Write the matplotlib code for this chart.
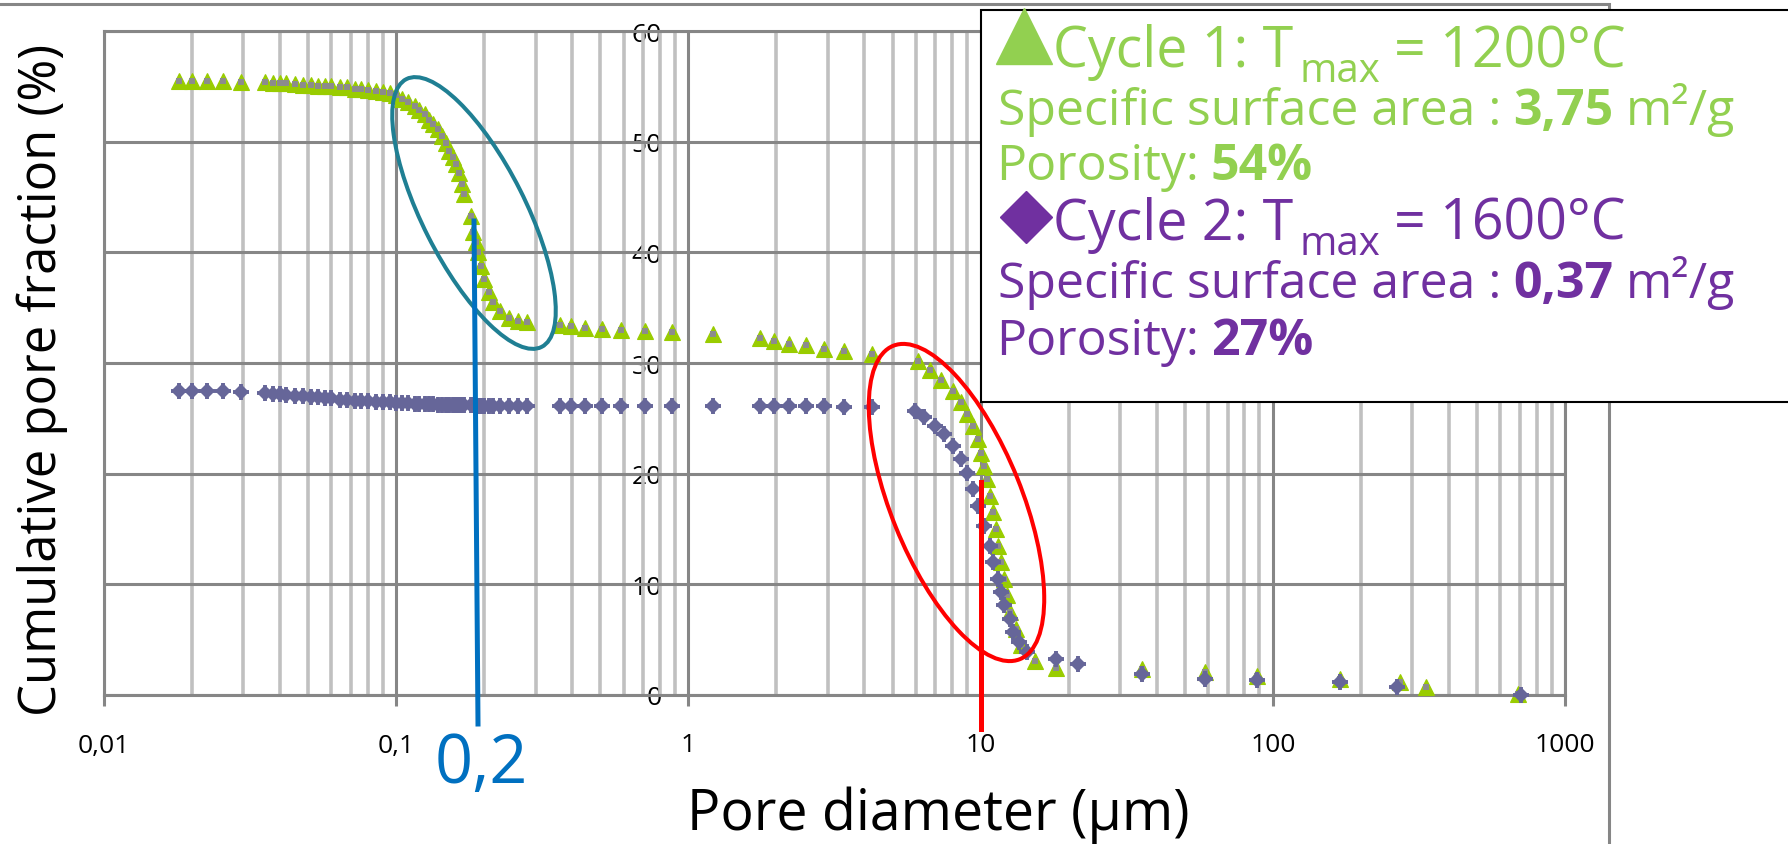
import matplotlib
matplotlib.use("Agg")
import matplotlib.pyplot as plt
from matplotlib import ticker
from matplotlib.patches import Ellipse, Rectangle

plt.rcParams["font.family"] = ["Open Sans", "DejaVu Sans"]

W, H = 1788, 845

# ── Data ──────────────────────────────────────────────────────────────────────
# Cycle 1 (Tmax = 1200 °C): pore diameter (µm) / cumulative pore fraction (%)
CYCLE1_D = [0.018, 0.020, 0.0226, 0.0256, 0.0295, 0.0357, 0.038, 0.040, 0.042, 0.045,
            0.048, 0.051, 0.054, 0.057, 0.060, 0.064, 0.068, 0.072, 0.076, 0.080,
            0.085, 0.090, 0.095, 0.100, 0.105, 0.110, 0.116, 0.120, 0.125, 0.130,
            0.134, 0.139, 0.144, 0.148, 0.152, 0.156, 0.160, 0.164, 0.168, 0.171,
            0.180, 0.183, 0.187, 0.190, 0.195, 0.200, 0.207, 0.215, 0.226, 0.243,
            0.261, 0.280, 0.364, 0.398, 0.443, 0.508, 0.586, 0.711, 0.877, 1.21,
            1.76, 1.97, 2.21, 2.52, 2.90, 3.40, 4.26, 6.10, 6.69, 7.33,
            8.02, 8.58, 8.98, 9.39, 9.82, 10.05, 10.28, 10.50, 10.76, 11.00,
            11.25, 11.50, 11.75, 12.00, 12.30, 12.60, 13.20, 13.80, 15.40, 18.10,
            35.7, 58.6, 88.1, 170, 272, 335, 692]
CYCLE1_FRAC = [55.5, 55.5, 55.5, 55.5, 55.4, 55.4, 55.3, 55.3, 55.3, 55.2,
               55.1, 55.1, 55.0, 55.0, 55.0, 54.9, 54.9, 54.8, 54.8, 54.7,
               54.6, 54.5, 54.4, 54.2, 53.9, 53.6, 53.2, 52.9, 52.5, 52.0,
               51.6, 51.1, 50.5, 49.9, 49.2, 48.6, 48.0, 47.2, 46.2, 45.3,
               43.3, 41.8, 40.9, 40.0, 38.8, 37.6, 36.4, 35.5, 34.7, 34.1,
               33.8, 33.7, 33.4, 33.3, 33.2, 33.1, 33.0, 32.9, 32.8, 32.6,
               32.3, 32.0, 31.7, 31.6, 31.3, 31.1, 30.8, 30.2, 29.4, 28.5,
               27.5, 26.5, 25.4, 24.3, 23.1, 21.9, 20.7, 19.5, 18.0, 16.5,
               15.0, 13.5, 12.0, 10.5, 9.0, 7.5, 6.0, 4.5, 3.1, 2.4,
               2.35, 2.1, 1.75, 1.45, 1.15, 0.7, 0.1]

# Cycle 2 (Tmax = 1600 °C)
CYCLE2_D = [0.018, 0.020, 0.0226, 0.0256, 0.0295, 0.0357, 0.038, 0.040, 0.042, 0.045,
            0.048, 0.051, 0.054, 0.057, 0.060, 0.064, 0.068, 0.072, 0.076, 0.080,
            0.085, 0.090, 0.095, 0.100, 0.105, 0.110, 0.116, 0.120, 0.125, 0.130,
            0.134, 0.139, 0.144, 0.148, 0.152, 0.156, 0.160, 0.164, 0.168, 0.171,
            0.180, 0.183, 0.187, 0.190, 0.195, 0.200, 0.207, 0.215, 0.226, 0.243,
            0.261, 0.280, 0.364, 0.398, 0.443, 0.508, 0.586, 0.711, 0.877, 1.21,
            1.76, 1.97, 2.21, 2.52, 2.90, 3.40, 4.26, 5.97, 6.41, 7.00,
            7.50, 8.02, 8.58, 8.98, 9.40, 9.82, 10.28, 10.76, 11.00, 11.50,
            11.75, 12.00, 12.60, 12.90, 13.50, 14.40, 18.10, 21.5, 35.7, 58.6,
            88.0, 170, 267, 708]
CYCLE2_FRAC = [27.5, 27.5, 27.5, 27.5, 27.4, 27.3, 27.2, 27.2, 27.1, 27.0,
               27.0, 26.9, 26.9, 26.8, 26.8, 26.7, 26.7, 26.6, 26.6, 26.6,
               26.5, 26.5, 26.5, 26.4, 26.4, 26.4, 26.3, 26.3, 26.3, 26.3,
               26.3, 26.2, 26.2, 26.2, 26.2, 26.2, 26.2, 26.2, 26.2, 26.2,
               26.2, 26.2, 26.1, 26.1, 26.1, 26.1, 26.1, 26.1, 26.1, 26.1,
               26.1, 26.1, 26.1, 26.1, 26.1, 26.1, 26.1, 26.1, 26.1, 26.1,
               26.1, 26.1, 26.1, 26.1, 26.1, 26.0, 26.0, 25.7, 25.1, 24.3,
               23.6, 22.5, 21.3, 20.1, 18.6, 17.1, 15.3, 13.5, 12.0, 10.5,
               9.3, 8.1, 6.9, 5.7, 4.8, 3.9, 3.25, 2.8, 1.9, 1.45,
               1.4, 1.15, 0.7, 0.0]

X_TICKS = [0.01, 0.1, 1, 10, 100, 1000]
X_TICK_LABELS = ["0,01", "0,1", "1", "10", "100", "1000"]
Y_TICKS = [0, 10, 20, 30, 40, 50, 60]

X_LABEL = "Pore diameter (µm)"
Y_LABEL = "Cumulative pore fraction (%)"
MARK_02 = "0,2"

CYCLE1_TITLE = ["Cycle 1: T", "max", "= 1200°C"]
CYCLE1_SSA = ["Specific surface area :", "3,75", "m²/g"]
CYCLE1_POR = ["Porosity:", "54%"]
CYCLE2_TITLE = ["Cycle 2: T", "max", "= 1600°C"]
CYCLE2_SSA = ["Specific surface area :", "0,37", "m²/g"]
CYCLE2_POR = ["Porosity:", "27%"]

# ── Styles ────────────────────────────────────────────────────────────────────
GREEN_MK = "#99CC00"
GREY_MK = "#8C8C8C"
PURPLE_MK = "#666699"
GREEN_TXT = "#92D050"
PURPLE_TXT = "#7030A0"
GRID_MAJOR = "#868686"
GRID_MINOR = "#C0C0C0"

fig = plt.figure(figsize=(W / 100, H / 100), dpi=100)

# main plot area (pixel box 104..1565 x 32..696)
ax = fig.add_axes([104 / W, 1 - 696 / H, 1461 / W, 664 / H])
ax.set_xscale("log")
ax.set_xlim(0.01, 1000)
ax.set_ylim(0, 60)
ax.set_axisbelow(True)

ax.xaxis.set_major_locator(ticker.FixedLocator(X_TICKS))
ax.xaxis.set_major_formatter(ticker.FixedFormatter(X_TICK_LABELS))
ax.xaxis.set_minor_locator(ticker.LogLocator(base=10, subs=range(2, 10), numticks=50))
ax.xaxis.set_minor_formatter(ticker.NullFormatter())
ax.yaxis.set_major_locator(ticker.FixedLocator(Y_TICKS))

ax.grid(which="major", axis="both", color=GRID_MAJOR, linewidth=2.2)
ax.grid(which="minor", axis="x", color=GRID_MINOR, linewidth=2.6)
for sp in ax.spines.values():
    sp.set_color(GRID_MAJOR)
    sp.set_linewidth(2.2)

ax.tick_params(axis="x", which="major", direction="out", length=8, width=2.2,
               color=GRID_MAJOR, labelsize=19, pad=19)
ax.tick_params(axis="x", which="minor", length=0)
ax.tick_params(axis="y", left=False, labelleft=False)

# value axis labels sit next to the x = 1 gridline
sec = ax.secondary_yaxis(0.4)
sec.set_yticks(Y_TICKS)
sec.spines["left"].set_visible(False)
sec.tick_params(axis="y", length=0, labelsize=19, pad=19)

# series
ax.plot(CYCLE1_D, CYCLE1_FRAC, linestyle="none", marker="^", markersize=12,
        color=GREEN_MK, markeredgewidth=0.8, clip_on=False, zorder=3)
ax.plot(CYCLE1_D, CYCLE1_FRAC, linestyle="none", marker="s", markersize=4.8,
        color=GREY_MK, markeredgewidth=0, clip_on=False, zorder=3)
ax.plot(CYCLE2_D, CYCLE2_FRAC, linestyle="none", marker="D", markersize=8,
        color=PURPLE_MK, markeredgewidth=0, clip_on=False, zorder=4)
ax.plot(CYCLE2_D, CYCLE2_FRAC, linestyle="none", marker="+", markersize=12,
        color=PURPLE_MK, markeredgewidth=2.8, clip_on=False, zorder=4)

# ── Overlay in image pixels (annotations, legend box, labels) ─────────────────
over = fig.add_axes([0, 0, 1, 1])
over.set_xlim(0, W)
over.set_ylim(H, 0)
over.axis("off")
over.patch.set_alpha(0)

# chart-area border
over.add_patch(Rectangle((-10, 5), 1619, 900, fill=False, edgecolor=GRID_MAJOR,
                         linewidth=2.2, zorder=1))

# hand-drawn highlights
over.add_patch(Ellipse((474, 214), 300, 103, angle=63.2, fill=False,
                       edgecolor="#1F7F93", linewidth=2.9, zorder=2))
over.add_patch(Ellipse((956.5, 503.5), 338, 131, angle=68, fill=False,
                       edgecolor="#FF0000", linewidth=2.9, zorder=2))
over.plot([474, 478], [222, 725], color="#0070C0", linewidth=3.6, zorder=2)
over.plot([981, 981], [483, 730], color="#FF0000", linewidth=3.6, zorder=2)
over.text(481, 783, MARK_02, fontsize=48, color="#0070C0", ha="center", va="baseline")

# axis titles
over.text(938, 830, X_LABEL, fontsize=40, ha="center", va="baseline")
over.text(42, 380, Y_LABEL, fontsize=36.5, rotation=90, ha="center", va="center")

# legend box
over.add_patch(Rectangle((981, 11), 900, 392, facecolor="white", edgecolor="black",
                         linewidth=1.5, zorder=3))
over.plot([1024], [37], marker="^", markersize=41, color=GREEN_TXT, linestyle="none",
          zorder=5, clip_on=False)
over.plot([1026], [218], marker="D", markersize=26, color=PURPLE_TXT, linestyle="none",
          zorder=5, clip_on=False)

renderer = fig.canvas.get_renderer()


def write_runs(x, y, pieces, color):
    # pieces: (text, fontsize, weight, dy, gap)
    for text, size, weight, dy, gap in pieces:
        x += gap
        t = over.text(x, y + dy, text, fontsize=size, fontweight=weight, color=color,
                      ha="left", va="baseline", zorder=5)
        x += t.get_window_extent(renderer).width


def title_line(x, y, parts, color):
    write_runs(x, y, [(parts[0], 40, "normal", 0, 0),
                      (parts[1], 29, "normal", 15, 6),
                      (parts[2], 40, "normal", 0, 14)], color)


def ssa_line(x, y, parts, color):
    write_runs(x, y, [(parts[0], 36, "normal", 0, 0),
                      (parts[1], 36, "bold", 0, 12),
                      (parts[2], 36, "normal", 0, 12)], color)


def por_line(x, y, parts, color):
    write_runs(x, y, [(parts[0], 36, "normal", 0, 0),
                      (parts[1], 36, "bold", 0, 12)], color)


title_line(1053, 67, CYCLE1_TITLE, GREEN_TXT)
ssa_line(998, 125, CYCLE1_SSA, GREEN_TXT)
por_line(996, 180, CYCLE1_POR, GREEN_TXT)
title_line(1053, 240, CYCLE2_TITLE, PURPLE_TXT)
ssa_line(998, 298, CYCLE2_SSA, PURPLE_TXT)
por_line(996, 355, CYCLE2_POR, PURPLE_TXT)

fig.savefig("out.png", dpi=100)
